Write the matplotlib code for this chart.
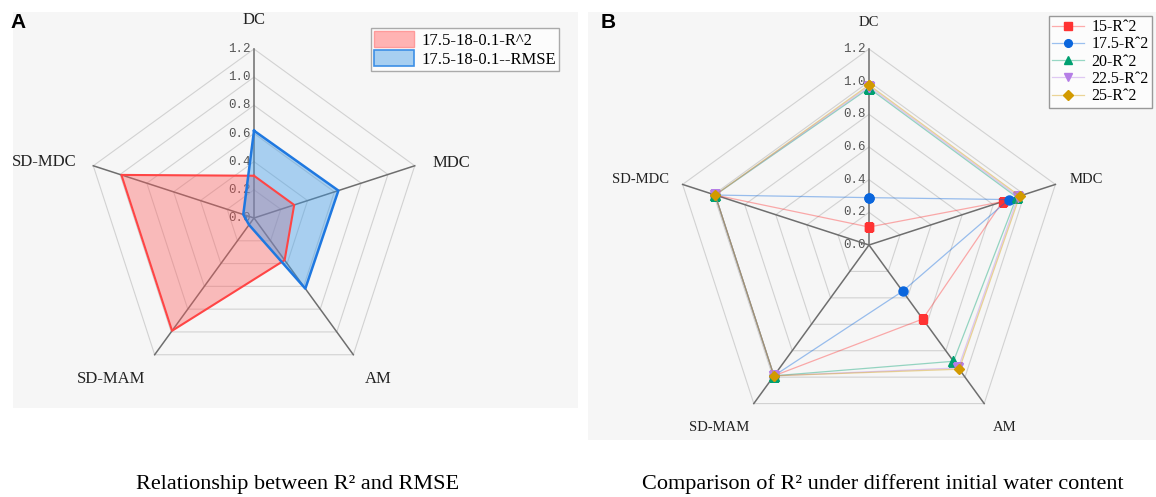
import numpy as np
import matplotlib
matplotlib.use("Agg")
import matplotlib.pyplot as plt
from matplotlib.patches import Rectangle, Patch

# radar axes and values
categories = ["DC", "MDC", "AM", "SD-MAM", "SD-MDC"]
ticks = [0.0, 0.2, 0.4, 0.6, 0.8, 1.0, 1.2]

# panel A: R^2 vs RMSE
r2_a = [0.30, 0.30, 0.37, 0.99, 0.99]
rmse_a = [0.62, 0.63, 0.62, 0.06, 0.08]
labels_a = ["17.5-18-0.1-R^2", "17.5-18-0.1--RMSE"]

# panel B: R^2 for different initial water content
labels_b = ["15-R\u02c62", "17.5-R\u02c62", "20-R\u02c62", "22.5-R\u02c62", "25-R\u02c62"]
r2_15 = [0.11, 0.86, 0.56, 0.99, 0.99]
r2_175 = [0.29, 0.90, 0.35, 0.99, 0.99]
r2_20 = [0.96, 0.95, 0.88, 0.99, 0.99]
r2_225 = [0.97, 0.96, 0.93, 0.99, 0.99]
r2_25 = [0.98, 0.97, 0.94, 0.99, 0.99]

W, H = 1156, 497
fig = plt.figure(figsize=(W / 100, H / 100), dpi=100)
fig.patch.set_facecolor("white")

# light grey panel backgrounds (behind the axes)
fig.patches.append(Rectangle((13 / W, 1 - 408 / H), 565 / W, 396 / H,
                             transform=fig.transFigure, facecolor="#f6f6f6",
                             edgecolor="none", zorder=-5))
fig.patches.append(Rectangle((588 / W, 1 - 440 / H), 568 / W, 428 / H,
                             transform=fig.transFigure, facecolor="#f6f6f6",
                             edgecolor="none", zorder=-5))

theta = np.deg2rad(np.arange(5) * 72.0)
theta_c = np.append(theta, theta[0])


def close(v):
    return np.append(v, v[0])


def radar_axes(cx, cy, r12):
    # polar axes centred at (cx, cy) px where r=1.2 sits r12 px out
    half = r12 * 1.5 / 1.2
    ax = fig.add_axes([(cx - half) / W, 1 - (cy + half) / H, 2 * half / W, 2 * half / H],
                      projection="polar")
    ax.set_theta_offset(np.pi / 2)
    ax.set_theta_direction(-1)
    ax.set_ylim(0, 1.5)
    ax.grid(False)
    ax.set_xticks([])
    ax.set_yticks([])
    ax.spines["polar"].set_visible(False)
    ax.patch.set_visible(False)
    for r in ticks[1:]:
        ax.plot(theta_c, [r] * 6, color="#d2d2d2", lw=0.8, zorder=1)
    for t in theta:
        ax.plot([t, t], [0, 1.2], color="#6e6e6e", lw=1.1, zorder=2)
    for r in ticks:
        ax.annotate(f"{r:.1f}", xy=(0, r), xytext=(-3, 0), textcoords="offset pixels",
                    ha="right", va="center", fontsize=9, family="Liberation Mono",
                    color="#555555", zorder=1.5)
    return ax


def axis_labels(ax, offsets, **kw):
    for t, name, off in zip(theta, categories, offsets):
        ax.annotate(name, xy=(t, 1.2), xytext=off, textcoords="offset pixels",
                    ha="center", va="center", color="#222222", **kw)


# ---- panel A ----
axA = radar_axes(254, 218, 169)
axA.fill(theta_c, close(r2_a), facecolor="#ff5a5a", alpha=0.38, zorder=3)
axA.plot(theta_c, close(r2_a), color="#ff4545", lw=1.5, zorder=4)
axA.fill(theta_c, close(rmse_a), facecolor="#3d9be9", alpha=0.42, zorder=3)
axA.plot(theta_c, close(rmse_a), color="#1f78e0", lw=1.8, zorder=4)
axis_labels(axA, [(0, 29), (37, 3), (25, -24), (-44, -24), (-49, 4)],
            fontsize=12, family="Liberation Serif")

handlesA = [Patch(facecolor="#ffb3b3", edgecolor="#ff9a9a", lw=1),
            Patch(facecolor="#a7cff1", edgecolor="#3d8fe6", lw=1.2)]
fig.legend(handlesA, labels_a, loc="upper left", bbox_to_anchor=(371 / W, 1 - 28 / H),
           borderaxespad=0, prop={"family": "Liberation Serif", "size": 12},
           handlelength=2.4, handleheight=1.05, handletextpad=0.4, labelspacing=0.1,
           borderpad=0.2, fancybox=False, edgecolor="#aaaaaa", framealpha=1,
           facecolor="#fcfcfc")

# ---- panel B ----
axB = radar_axes(869, 245, 196)
series_b = [r2_15, r2_175, r2_20, r2_225, r2_25]
colors_b = ["#ff3333", "#0a66dd", "#00a070", "#b57ee6", "#d29a00"]
markers_b = ["s", "o", "^", "v", "D"]
sizes_b = [6, 6.5, 6.5, 6.5, 5.5]
handlesB = []
for vals, c, m, ms in zip(series_b, colors_b, markers_b, sizes_b):
    rgba = matplotlib.colors.to_rgba(c, 0.4)
    ln, = axB.plot(theta_c, close(vals), color=rgba, lw=0.9, marker=m, ms=ms,
                   markerfacecolor=c, markeredgecolor=c, zorder=4)
    handlesB.append(ln)
axis_labels(axB, [(0, 27), (31, 5), (20, -24), (-35, -24), (-42, 5)],
            fontsize=10.5, family="Liberation Serif")

fig.legend(handlesB, labels_b, loc="upper left", bbox_to_anchor=(1049 / W, 1 - 16 / H),
           borderaxespad=0, prop={"family": "Liberation Serif", "size": 11.5},
           handlelength=2.0, handletextpad=0.45, labelspacing=0.08, borderpad=0.2,
           markerscale=0.85, numpoints=1, fancybox=False, edgecolor="#999999",
           framealpha=1, facecolor="#fcfcfc")

# panel letters
fig.text(10 / W, 1 - 23 / H, "A", fontsize=15, fontweight="bold",
         family="Liberation Sans", ha="left", va="center")
fig.text(601 / W, 1 - 23 / H, "B", fontsize=15, fontweight="bold",
         family="Liberation Sans", ha="left", va="center")

# captions
fig.text(298 / W, 1 - 484 / H, "Relationship between R\u00b2 and RMSE", fontsize=16,
         family="Liberation Serif", ha="center", va="center")
fig.text(883 / W, 1 - 484 / H, "Comparison of R\u00b2 under different initial water content",
         fontsize=16, family="Liberation Serif", ha="center", va="center")

fig.savefig("out.png", dpi=100)
